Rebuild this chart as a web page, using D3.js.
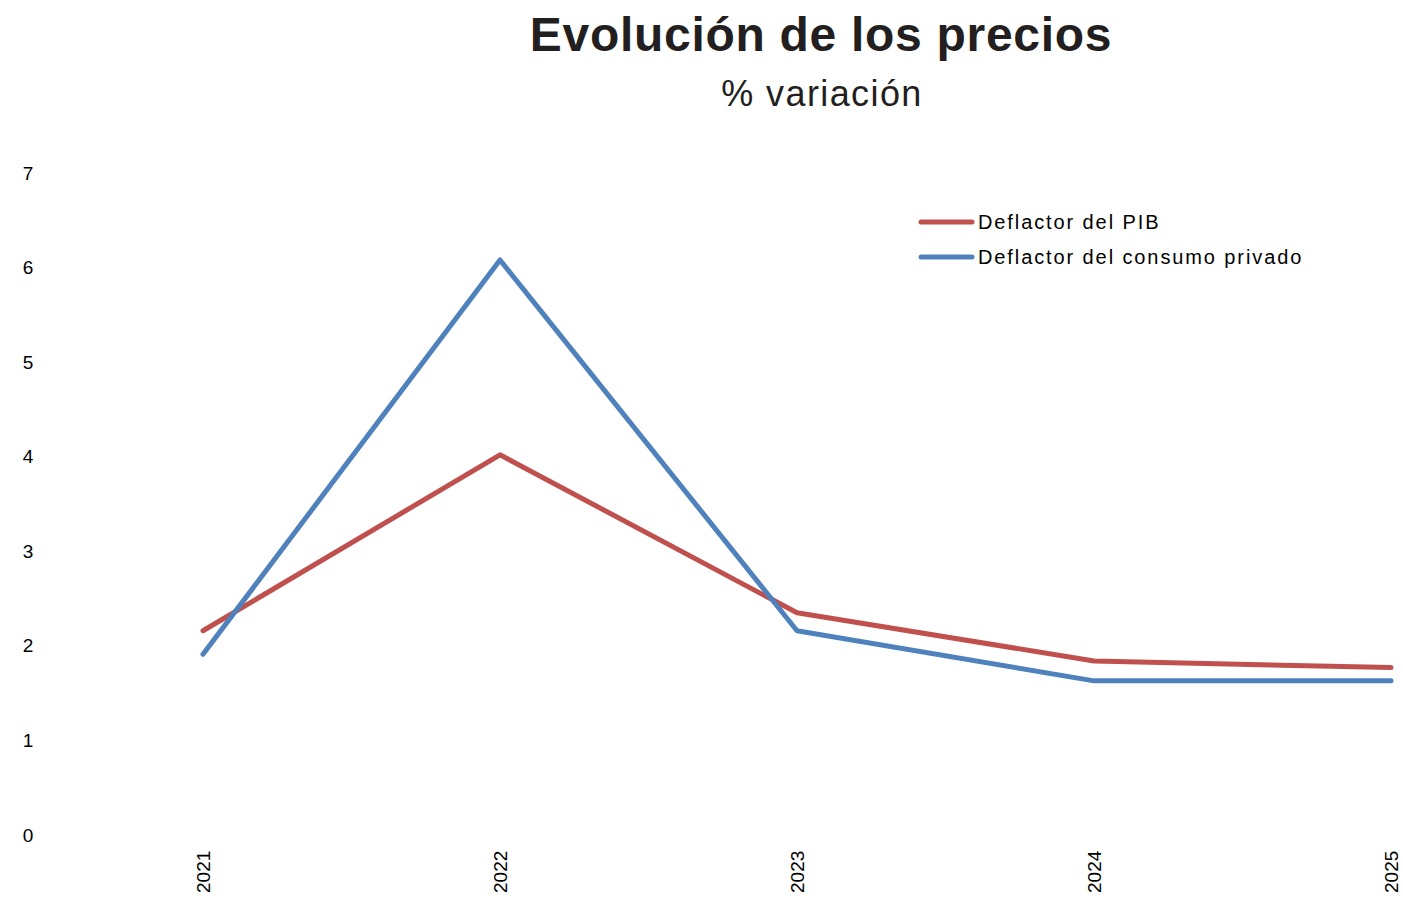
<!DOCTYPE html>
<html>
<head>
<meta charset="utf-8">
<script src="https://cdn.jsdelivr.net/npm/d3@7"></script>
<style>
  body { margin: 0; background: #fff; }
  svg { font-family: "Liberation Sans", Arial, sans-serif; }
</style>
</head>
<body>
<div id="chart"></div>
<script>
const years = ['2021', '2022', '2023', '2024', '2025'];
const deflactorPIB = [2.16, 4.02, 2.35, 1.84, 1.77];
const deflactorConsumo = [1.91, 6.08, 2.16, 1.63, 1.63];
const yTicks = [0, 1, 2, 3, 4, 5, 6, 7];
const seriesNames = ['Deflactor del PIB', 'Deflactor del consumo privado'];
const seriesColors = ['#C0504D', '#4F81BD'];

const width = 1403, height = 899;

const svg = d3.select('#chart')
  .append('svg')
  .attr('width', width)
  .attr('height', height);

// titles
svg.append('text')
  .attr('x', 821).attr('y', 51)
  .attr('text-anchor', 'middle')
  .attr('font-size', '48px')
  .attr('font-weight', 'bold')
  .attr('letter-spacing', '0.7px')
  .attr('fill', '#231f20')
  .text('Evolución de los precios');

svg.append('text')
  .attr('x', 822).attr('y', 106)
  .attr('text-anchor', 'middle')
  .attr('font-size', '36px')
  .attr('letter-spacing', '1.4px')
  .attr('fill', '#231f20')
  .text('% variación');

const x = d3.scalePoint()
  .domain(years)
  .range([203, 1391]);

const y = d3.scaleLinear()
  .domain([0, 7])
  .range([835, 173]);

// y axis (labels only)
const yAxis = svg.append('g')
  .attr('transform', 'translate(28,0)')
  .call(d3.axisLeft(y).tickValues(yTicks).tickFormat(d3.format('d')).tickSize(0).tickPadding(0));
yAxis.select('.domain').remove();
yAxis.selectAll('text')
  .attr('text-anchor', 'middle')
  .attr('font-size', '19px')
  .attr('font-family', '"Liberation Sans", Arial, sans-serif')
  .attr('fill', '#000');

// x axis (rotated labels only)
const xAxis = svg.append('g')
  .attr('transform', 'translate(0,893)')
  .call(d3.axisBottom(x).tickSize(0).tickPadding(0));
xAxis.select('.domain').remove();
xAxis.selectAll('text')
  .attr('transform', 'rotate(-90)')
  .attr('text-anchor', 'start')
  .attr('dy', '0.35em')
  .attr('y', 0)
  .attr('x', 0)
  .attr('font-size', '19px')
  .attr('font-family', '"Liberation Sans", Arial, sans-serif')
  .attr('fill', '#000');

const line = d3.line()
  .x((d, i) => x(years[i]))
  .y(d => y(d));

[deflactorPIB, deflactorConsumo].forEach((vals, k) => {
  svg.append('path')
    .datum(vals)
    .attr('d', line)
    .attr('fill', 'none')
    .attr('stroke', seriesColors[k])
    .attr('stroke-width', 5)
    .attr('stroke-linecap', 'round')
    .attr('stroke-linejoin', 'round');
});

// legend
const legend = svg.append('g').attr('transform', 'translate(921,222)');
seriesNames.forEach((name, i) => {
  const row = legend.append('g').attr('transform', `translate(0,${i * 35})`);
  row.append('line')
    .attr('x1', 0).attr('x2', 51)
    .attr('stroke', seriesColors[i])
    .attr('stroke-width', 5)
    .attr('stroke-linecap', 'round');
  row.append('text')
    .attr('x', 57).attr('y', 0)
    .attr('dy', '0.35em')
    .attr('font-size', '20px')
    .attr('letter-spacing', '1.9px')
    .attr('fill', '#000')
    .text(name);
});
</script>
</body>
</html>
